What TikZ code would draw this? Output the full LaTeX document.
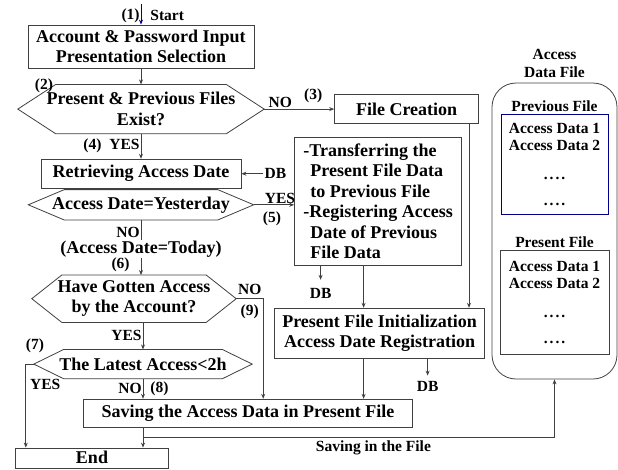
\documentclass[tikz,border=0pt]{standalone}
\usepackage{fontspec}
\setmainfont{Liberation Serif}
\usetikzlibrary{arrows.meta,positioning}
\newcommand{\txtfont}{\fontsize{18}{20.5}\selectfont\bfseries}
\newcommand{\lblfont}{\fontsize{15.5}{17.5}\selectfont\bfseries}
\newcommand{\dotrow}{.\kern2pt.\kern2pt.\kern2pt.}
% hexagon outline round a named node, #2 = how far the corners are pulled in
\newcommand{\hexa}[2]{\draw[ln] (#1.west) -- ([xshift=#2]#1.north west) -- ([xshift=-#2]#1.north east) -- (#1.east) -- ([xshift=-#2]#1.south east) -- ([xshift=#2]#1.south west) -- cycle;}
\tikzset{ln/.style={draw=black!75,line width=0.8pt},
 bx/.style={ln,align=center,inner sep=2pt,font=\txtfont},
 hx/.style={align=center,inner sep=1pt,font=\txtfont},
 lb/.style={font=\lblfont,inner sep=1pt},
 fl/.style={draw=black!75,line width=0.7pt,align=center,inner sep=2pt,font=\lblfont},
 ar/.style={ln,-{Stealth[length=5pt,width=4pt]}}}

\begin{document}
\begin{tikzpicture}[x=1pt,y=1pt]
\useasboundingbox (0,0) rectangle (618,-469);
% left column
\node[bx,minimum width=226pt,minimum height=43pt](acct) at (141,-46.5){Account \& Password Input\\Presentation Selection};
\node[hx,minimum width=246pt,minimum height=49pt,below=16pt of acct](hexA){Present \& Previous Files\\Exist?};
\node[bx,minimum width=200pt,minimum height=29pt,below=25pt of hexA](retr){Retrieving Access Date};
\node[hx,minimum width=225pt,minimum height=30pt,below=1pt of retr](hexB){Access Date=Yesterday};
\node[hx,minimum width=204pt,minimum height=47pt,below=55pt of hexB,xshift=-7pt](hexC){Have Gotten Access\\by the Account?};
\node[hx,minimum width=218pt,minimum height=29pt,below=27pt of hexC,xshift=9pt](hexD){The Latest Access<2h};
\node[bx,minimum width=329pt,minimum height=28pt,below=20pt of hexD,xshift=105pt](save){Saving the Access Data in Present File};
\node[bx,minimum width=153pt,minimum height=20pt,text height=12pt,text depth=1pt,below=20pt of save,xshift=-156pt](fin){End};
\hexa{hexA}{38pt}\hexa{hexB}{36pt}\hexa{hexC}{30pt}\hexa{hexD}{30pt}
% middle column
\node[bx,minimum width=144pt,minimum height=29pt,right=70pt of hexA](create){File Creation};
\node[bx,align=left,minimum width=167pt,minimum height=128pt,below=13pt of create,xshift=-28.5pt](trans){-Transferring the\\\hspace*{7pt}Present File Data\\\hspace*{7pt}to Previous File\\-Registering Access\\\hspace*{7pt}Date of Previous\\\hspace*{7pt}File Data};
\node[bx,minimum width=210pt,minimum height=50pt,below=42pt of trans,xshift=1.5pt](init){Present File Initialization\\Access Date Registration};
\node[lb,right=22pt of retr](dbA){DB};
\node[lb,below=21pt of trans.south,xshift=-57.5pt](dbB){DB};
\node[lb,below=22pt of init.south,xshift=48pt](dbC){DB};
% file store
\node[ln,rounded corners=24pt,minimum width=125pt,minimum height=296pt](adf) at (554.5,-231){};
\node[lb,align=center,above=4pt of adf](adfttl){Access\\Data File};
\node[lb,below=17pt of adf.north](prevttl){Previous File};
\node[fl,draw=blue!55!black,minimum width=107pt,minimum height=100pt,below=1pt of prevttl](prevf){Access Data 1\\Access Data 2\\[11pt]\dotrow\\[9pt]\dotrow};
\node[lb,below=21pt of prevf](presttl){Present File};
\node[fl,minimum width=109pt,minimum height=104pt,below=1pt of presttl](presf){Access Data 1\\Access Data 2\\[11pt]\dotrow\\[9pt]\dotrow};
% stray step numbers
\node[lb](n2) at (44,-86){(2)};
\node[lb](n7) at (35,-346){(7)};
% connectors
\coordinate (st) at (141,-4);
\draw[ar,draw=blue!60!black](st)--node[lb,left,pos=0.55]{(1)} node[lb,right,pos=0.55,xshift=8pt]{Start}(acct);
\draw[ar](acct)--(hexA);
\draw[ar](hexA.east)--node[lb,above,pos=0.23]{NO} node[lb,above,pos=0.7,yshift=5pt]{(3)}(hexA.east -| create.west);
\draw[ar](hexA)--node[lb,left,pos=0.48]{(4)\hspace{8pt}YES}(retr);
\draw[ar](dbA)--(retr);
\draw[ar](hexB.east)--node[lb,above,pos=0.65]{YES} node[lb,below,pos=0.45,yshift=-6pt]{(5)}(hexB.east -| trans.west);
\draw[ar](hexB.south)--node[lb,left,pos=0.22]{NO} node[hx,fill=white,pos=0.53]{(Access Date=Today)} node[lb,left,pos=0.82,xshift=-10pt]{(6)}(hexB.south |- hexC.north);
\draw[ar](hexC.east)--node[lb,above,yshift=3pt]{NO} node[lb,below,yshift=-5pt]{(9)} ++(27pt,0) coordinate (k9)--(k9 |- save.north);
\draw[ar](hexD.north |- hexC.south)--node[lb,left]{YES}(hexD.north);
\draw[ar](hexD.west)-- ++(-8pt,0) coordinate (k7)--node[lb,right,pos=0.24,xshift=3pt]{YES}(k7 |- fin.north);
\draw[ar](hexD.south)--node[lb,left]{NO} node[lb,right,xshift=6pt]{(8)}(hexD.south |- save.north);
\draw[ar,shorten >=7pt](dbB.north |- trans.south)--(dbB.north);
\draw[ar]([xshift=-14.5pt]trans.south)--([xshift=-14.5pt]trans.south |- init.north);
\draw[ar]([xshift=-10pt]create.south east)--([xshift=-10pt]create.south east |- init.north);
\draw[ar]([xshift=-16pt]init.south)--([xshift=-16pt]init.south |- save.north);
\draw[ar,shorten >=5pt](dbC.north |- init.south)--(dbC.north);
\draw[ar](hexD.south |- save.south)--(hexD.south |- fin.north);
\draw[ar](hexD.south |- save.south)-- ++(0,-10pt) -| node[lb,below=2pt,pos=0.28]{Saving in the File}(adf.south);
\end{tikzpicture}
\end{document}
